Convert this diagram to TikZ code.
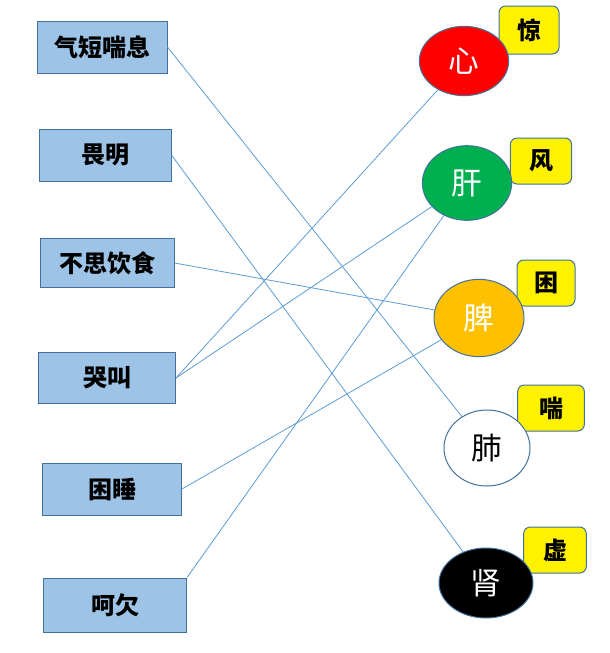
\documentclass[tikz,border=0pt]{standalone}
\usepackage{fontspec}
\setmainfont{Noto Sans CJK SC}
\usetikzlibrary{shapes.geometric}

\definecolor{boxblue}{HTML}{9DC3E6}
\definecolor{edgeblue}{HTML}{41719C}
\definecolor{lineblue}{HTML}{5B9BD5}
\definecolor{liverGreen}{HTML}{00B050}
\definecolor{spleenOrange}{HTML}{FFC000}

\tikzstyle{symptom} = [rectangle, minimum width=100pt, minimum height=39pt, inner sep=0pt, text centered, draw=edgeblue, fill=boxblue, line width=0.75pt, font=\fontsize{18}{21}\selectfont\bfseries]
\tikzstyle{organ} = [ellipse, minimum width=67pt, minimum height=55pt, inner sep=0pt, text centered, draw=edgeblue, line width=0.75pt, text=white, font=\fontsize{23}{26}\selectfont]
\tikzstyle{tag} = [rectangle, rounded corners=5pt, minimum width=46pt, minimum height=34.5pt, inner sep=0pt, text centered, draw=edgeblue, fill=yellow, line width=0.75pt, font=\fontsize{18}{21}\selectfont\bfseries]
\tikzstyle{link} = [lineblue, line width=0.6pt]

\begin{document}
\begin{tikzpicture}[x=0.75pt, y=-0.75pt, node distance=81pt]

    \useasboundingbox (0,0) rectangle (610,653);

    \node (qiduan) [symptom, minimum width=97.5pt] at (102,47) {气短喘息};
    \node (weiming) [symptom, minimum width=99pt, below of=qiduan, xshift=2.25pt] {畏明};
    \node (busi) [symptom, minimum width=100.5pt, minimum height=36.75pt, below of=weiming, xshift=1.5pt] {不思饮食};
    \node (kujiao) [symptom, minimum width=102.75pt, minimum height=38.25pt, below of=busi, yshift=-5.25pt] {哭叫};
    \node (kunshui) [symptom, minimum width=104.25pt, below of=kujiao, yshift=-2.25pt, xshift=3.75pt] {困睡};
    \node (haqian) [symptom, minimum width=107.25pt, minimum height=40.5pt, below of=kunshui, yshift=-6pt, xshift=2.25pt] {呵欠};

    \node (jing) [tag, minimum width=45pt, minimum height=36pt] at (529,30) {惊};
    \node (feng) [tag] at (541,161) {风};
    \node (kun) [tag, minimum width=43.5pt] at (546,283) {困};
    \node (chuan) [tag, minimum width=50pt] at (551,408) {喘};
    \node (xu) [tag, minimum width=47pt] at (555,550) {虚};

    \node (xin) [organ, fill=red, minimum height=52pt] at (464,61) {心};
    \node (gan) [organ, fill=liverGreen, minimum height=56pt] at (467,183) {肝};
    \node (pi) [organ, fill=spleenOrange, minimum width=67.5pt, minimum height=58pt] at (479,318) {脾};
    \node (fei) [organ, fill=white, text=black, minimum width=64.5pt, minimum height=57pt] at (487,448) {肺};
    \node (shen) [organ, fill=black, minimum width=70.5pt, minimum height=52.5pt] at (486,583) {肾};

    \draw[link] (qiduan.east) -- (fei);
    \draw[link] (weiming.east) -- (shen);
    \draw[link] (busi.east) -- (pi);
    \draw[link] (kujiao.east) -- (xin);
    \draw[link] (kujiao.east) -- (gan);
    \draw[link] (kunshui.east) -- (pi);
    \draw[link] (haqian.north east) -- (gan);

\end{tikzpicture}
\end{document}
